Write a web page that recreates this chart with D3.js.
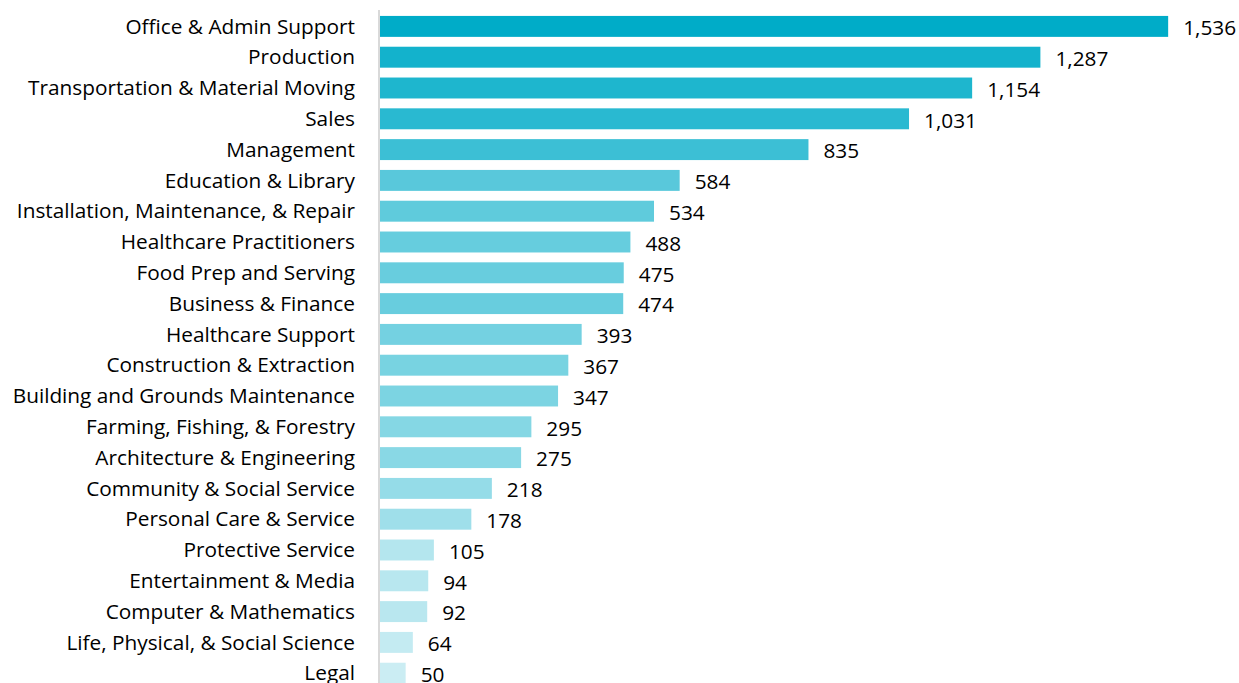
<!DOCTYPE html>
<html>
<head>
<meta charset="utf-8">
<script src="https://cdn.jsdelivr.net/npm/d3@7"></script>
<style>
  body { margin: 0; background: #fff; }
  text { font-family: "Open Sans", sans-serif; fill: #000; }
</style>
</head>
<body>
<div id="chart"></div>
<script>
// categories, top to bottom
var categories = [
  "Office & Admin Support", "Production", "Transportation & Material Moving",
  "Sales", "Management", "Education & Library",
  "Installation, Maintenance, & Repair", "Healthcare Practitioners",
  "Food Prep and Serving", "Business & Finance", "Healthcare Support",
  "Construction & Extraction", "Building and Grounds Maintenance",
  "Farming, Fishing, & Forestry", "Architecture & Engineering",
  "Community & Social Service", "Personal Care & Service",
  "Protective Service", "Entertainment & Media", "Computer & Mathematics",
  "Life, Physical, & Social Science", "Legal"
];
var values = [1536, 1287, 1154, 1031, 835, 584, 534, 488, 475, 474, 393,
              367, 347, 295, 275, 218, 178, 105, 94, 92, 64, 50];

var width = 1239, height = 683;

var svg = d3.select("#chart").append("svg")
    .attr("width", width)
    .attr("height", height);

var data = categories.map(function(c, i) { return {name: c, value: values[i]}; });

// x scale: bars start at the axis line
var x = d3.scaleLinear()
    .domain([0, 1600])
    .range([380, 1201]);

var y = d3.scaleBand()
    .domain(categories)
    .range([11, 688.6])
    .paddingInner(0.32)
    .paddingOuter(0.16);

// colour gets darker with the value
var color = d3.scalePow().exponent(0.42)
    .domain([50, 1536])
    .range(["#cbedf3", "#00acc8"])
    .interpolate(d3.interpolateRgb);

svg.selectAll(".bar")
  .data(data)
  .enter().append("rect")
    .attr("class", "bar")
    .attr("x", x(0))
    .attr("y", function(d) { return y(d.name); })
    .attr("width", function(d) { return x(d.value) - x(0); })
    .attr("height", y.bandwidth())
    .attr("fill", function(d) { return color(d.value); });

// vertical axis line
svg.append("line")
    .attr("x1", 379)
    .attr("x2", 379)
    .attr("y1", 10)
    .attr("y2", height)
    .style("stroke", "#d9d9d9")
    .style("stroke-width", 2);

// category labels
svg.selectAll(".cat")
  .data(data)
  .enter().append("text")
    .attr("class", "cat")
    .attr("x", 355)
    .attr("y", function(d) { return y(d.name) + y.bandwidth() / 2; })
    .attr("dy", "0.35em")
    .style("text-anchor", "end")
    .style("font-size", "20.8px")
    .text(function(d) { return d.name; });

// value labels
svg.selectAll(".val")
  .data(data)
  .enter().append("text")
    .attr("class", "val")
    .attr("x", function(d) { return x(d.value) + 15; })
    .attr("y", function(d) { return y(d.name) + y.bandwidth() / 2; })
    .attr("dy", "0.42em")
    .style("font-size", "20.8px")
    .text(function(d) { return d3.format(",")(d.value); });
</script>
</body>
</html>
